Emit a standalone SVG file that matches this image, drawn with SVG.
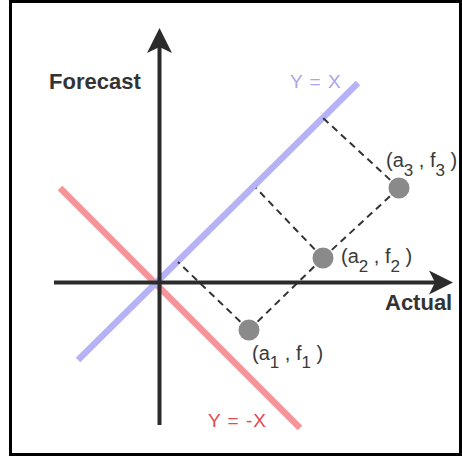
<svg xmlns="http://www.w3.org/2000/svg" width="462" height="459" viewBox="0 0 462 459">
<style>
.axis{stroke:#2b2b2b;stroke-width:4;fill:none}
.head{fill:#2b2b2b}
.dash{stroke:#333;stroke-width:2;stroke-dasharray:7 5;fill:none}
.pt{fill:#8a8a8a}
.lbl{font-family:"Liberation Sans",Arial,sans-serif;font-size:20px;fill:#3a3a3a}
.sub{font-size:17px}
.ax{font-family:"Liberation Sans",Arial,sans-serif;font-size:22px;font-weight:bold;fill:#333}
.eq{font-family:"Liberation Sans",Arial,sans-serif;font-size:19px}
</style>
<rect x="0" y="0" width="462" height="459" fill="#fff"/>
<rect x="10.5" y="1.5" width="450" height="453" fill="none" stroke="#000" stroke-width="3"/>
<g id="lines">
<line id="ynegx" x1="60" y1="188" x2="300" y2="428" stroke="#f5959a" stroke-width="6.5"/>
<line id="yx" x1="78" y1="360" x2="358" y2="83" stroke="#b6b2f6" stroke-width="6.5"/>
</g>
<g id="connectors">
<line class="dash" x1="249" y1="330" x2="178" y2="262"/>
<line class="dash" x1="323" y1="258" x2="256" y2="188"/>
<line class="dash" x1="399" y1="188" x2="322" y2="117"/>
<line class="dash" x1="249" y1="330" x2="323" y2="258"/>
<line class="dash" x1="323" y1="258" x2="399" y2="188"/>
</g>
<g id="axes">
<line class="axis" x1="54" y1="282.5" x2="440" y2="282.5"/>
<polygon class="head" points="453,282.5 429,270.5 435,282.5 429,294.5"/>
<line class="axis" x1="159.5" y1="425" x2="159.5" y2="42"/>
<polygon class="head" points="159.5,28 147,53 159.5,47 172,53"/>
</g>
<g id="p1"><circle class="pt" cx="249" cy="330" r="10.5"/>
<text class="lbl" x="252" y="360">(a<tspan class="sub" dy="8">1</tspan><tspan dy="-8"> , f</tspan><tspan class="sub" dy="8">1</tspan><tspan dy="-8"> )</tspan></text></g>
<g id="p2"><circle class="pt" cx="323" cy="258" r="10.5"/>
<text class="lbl" x="341" y="263">(a<tspan class="sub" dy="9">2</tspan><tspan dy="-9"> , f</tspan><tspan class="sub" dy="9">2</tspan><tspan dy="-9"> )</tspan></text></g>
<g id="p3"><circle class="pt" cx="399" cy="188" r="10.5"/>
<text class="lbl" x="386" y="167">(a<tspan class="sub" dy="9">3</tspan><tspan dy="-9"> , f</tspan><tspan class="sub" dy="9">3</tspan><tspan dy="-9"> )</tspan></text></g>
<text class="ax" x="49" y="89">Forecast</text>
<text class="ax" x="385" y="310">Actual</text>
<text class="eq" x="290" y="88" fill="#aaa4ee" letter-spacing="1">Y = X</text>
<text class="eq" x="208" y="427" fill="#e5474f" letter-spacing="1">Y = -X</text>
</svg>
